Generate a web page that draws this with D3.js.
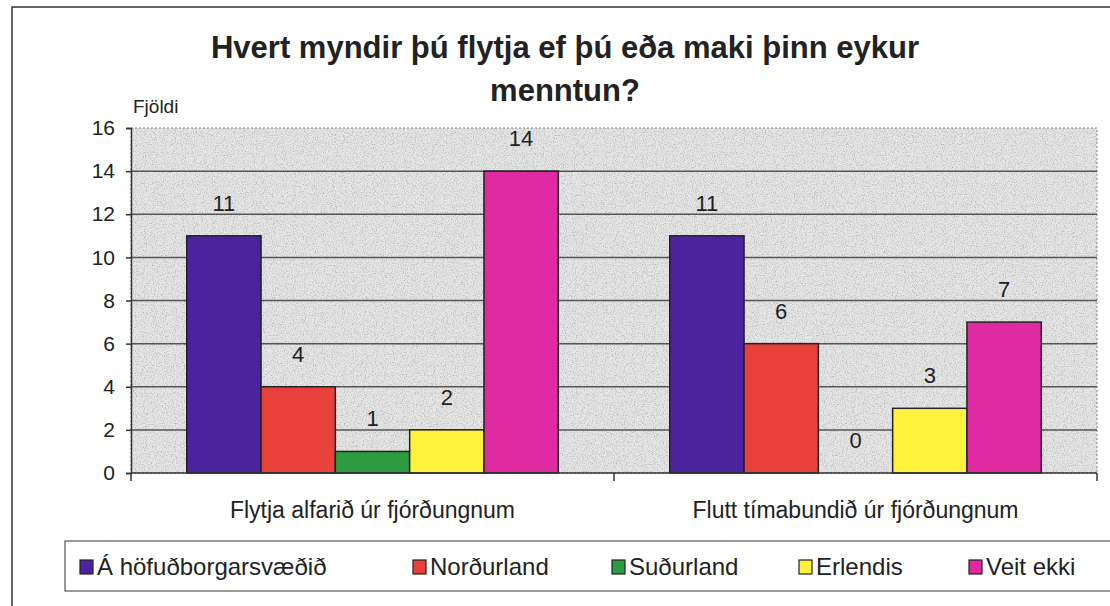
<!DOCTYPE html>
<html>
<head>
<meta charset="utf-8">
<script src="https://cdn.jsdelivr.net/npm/d3@7"></script>
<style>
  body { margin: 0; background: #fff; }
  text { font-family: "Liberation Sans", Arial, sans-serif; fill: #222; }
</style>
</head>
<body>
<svg id="chart" width="1110" height="606"></svg>
<script>
// data
const categories = ['Flytja alfarið úr fjórðungnum', 'Flutt tímabundið úr fjórðungnum']
const seriesNames = ['Á höfuðborgarsvæðið', 'Norðurland', 'Suðurland', 'Erlendis', 'Veit ekki']
const seriesColors = ['#4b22a0', '#e8403a', '#2f9b40', '#fff23c', '#df2aa2']
const valuesAlfarid = [11, 4, 1, 2, 14]
const valuesTimabundid = [11, 6, 0, 3, 7]
const yTicks = [0, 2, 4, 6, 8, 10, 12, 14, 16]
const titleLines = ['Hvert myndir þú flytja ef þú eða maki þinn eykur', 'menntun?']

const svg = d3.select('#chart')
const plot = { left: 131, right: 1097, top: 128, bottom: 473 }

// noisy grey background like the scanned excel plot area
const defs = svg.append('defs')
const f = defs.append('filter').attr('id', 'grain').attr('x', 0).attr('y', 0).attr('width', 1).attr('height', 1)
f.append('feTurbulence').attr('type', 'fractalNoise').attr('baseFrequency', 0.9).attr('numOctaves', 2).attr('seed', 4)
f.append('feColorMatrix').attr('type', 'matrix')
  .attr('values', '0 0 0 0 0.45  0 0 0 0 0.45  0 0 0 0 0.45  0 0 0 -2.4 1.3')
f.append('feComposite').attr('in2', 'SourceGraphic').attr('operator', 'in')

// outer border
svg.append('rect').attr('x', 12).attr('y', 7).attr('width', 1120).attr('height', 620)
  .attr('fill', 'none').attr('stroke', '#333').attr('stroke-width', 1.5)

const x0 = d3.scaleBand().domain(categories).range([plot.left, plot.right]).paddingInner(0).paddingOuter(0)
const x1 = d3.scaleBand().domain(seriesNames).range([0, x0.bandwidth()]).paddingInner(0).paddingOuter(0.75)
const y = d3.scaleLinear().domain([0, 16]).range([plot.bottom, plot.top])

svg.append('rect').attr('x', plot.left).attr('y', plot.top)
  .attr('width', plot.right - plot.left).attr('height', plot.bottom - plot.top)
  .attr('fill', '#e6e6e6')
svg.append('rect').attr('x', plot.left).attr('y', plot.top)
  .attr('width', plot.right - plot.left).attr('height', plot.bottom - plot.top)
  .attr('fill', '#fff').attr('filter', 'url(#grain)')
svg.append('rect').attr('x', plot.left).attr('y', plot.top)
  .attr('width', plot.right - plot.left).attr('height', plot.bottom - plot.top)
  .attr('fill', 'none').attr('stroke', '#888').attr('stroke-dasharray', '2,2')

// gridlines
svg.append('g').selectAll('line').data(yTicks.slice(1, -1)).join('line')
  .attr('x1', plot.left).attr('x2', plot.right)
  .attr('y1', d => y(d)).attr('y2', d => y(d))
  .attr('stroke', '#555').attr('stroke-width', 1.5)

// bars
const groups = [valuesAlfarid, valuesTimabundid]
const g = svg.append('g')
groups.forEach((vals, gi) => {
  const gx = x0(categories[gi])
  vals.forEach((v, si) => {
    const bx = gx + x1(seriesNames[si])
    if (v > 0) {
      g.append('rect')
        .attr('x', bx).attr('y', y(v))
        .attr('width', x1.bandwidth()).attr('height', y(0) - y(v))
        .attr('fill', seriesColors[si]).attr('stroke', '#222').attr('stroke-width', 1.5)
    }
    g.append('text')
      .attr('x', bx + x1.bandwidth() / 2).attr('y', y(v) - 25)
      .attr('text-anchor', 'middle').attr('font-size', 22)
      .text(v)
  })
})

// y axis
const yAxis = d3.axisLeft(y).tickValues(yTicks).tickSize(5).tickPadding(11)
const ya = svg.append('g').attr('transform', `translate(${plot.left},0)`).call(yAxis)
ya.select('.domain').attr('stroke', '#333').attr('stroke-width', 1.5)
ya.selectAll('.tick line').attr('stroke', '#333').attr('stroke-width', 1.5)
ya.selectAll('.tick text').attr('font-size', 21).attr('fill', '#222')
  .attr('font-family', '"Liberation Sans", Arial, sans-serif')

// x axis
const xa = svg.append('g').attr('transform', `translate(0,${plot.bottom})`)
xa.append('line').attr('x1', plot.left).attr('x2', plot.right).attr('stroke', '#333').attr('stroke-width', 1.5)
xa.selectAll('.tk').data([plot.left, plot.left + x0.bandwidth(), plot.right]).join('line')
  .attr('x1', d => d).attr('x2', d => d).attr('y1', 0).attr('y2', 8)
  .attr('stroke', '#333').attr('stroke-width', 1.5)
xa.selectAll('text').data(categories).join('text')
  .attr('x', d => x0(d) + x0.bandwidth() / 2).attr('y', 45)
  .attr('text-anchor', 'middle').attr('font-size', 23)
  .text(d => d)

// title
svg.append('g').selectAll('text').data(titleLines).join('text')
  .attr('x', 565).attr('y', (d, i) => 58 + i * 43)
  .attr('text-anchor', 'middle').attr('font-size', 31).attr('font-weight', 'bold')
  .text(d => d)

svg.append('text').attr('x', 133).attr('y', 113).attr('font-size', 19).text('Fjöldi')

// legend
const leg = svg.append('g')
leg.append('rect').attr('x', 65).attr('y', 541).attr('width', 1100).attr('height', 50)
  .attr('fill', '#fff').attr('stroke', '#555').attr('stroke-width', 1.2)
const legX = [80, 413, 612, 799, 969]
seriesNames.forEach((n, i) => {
  leg.append('rect').attr('x', legX[i]).attr('y', 560).attr('width', 13).attr('height', 14)
    .attr('fill', seriesColors[i]).attr('stroke', '#222').attr('stroke-width', 1.2)
  leg.append('text').attr('x', legX[i] + 17).attr('y', 575).attr('font-size', 24).text(n)
})
</script>
</body>
</html>
